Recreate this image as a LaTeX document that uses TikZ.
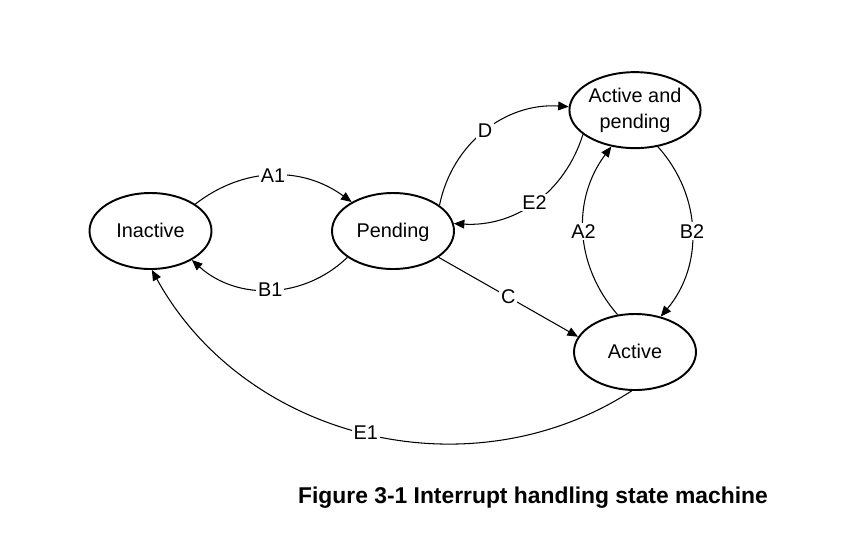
\documentclass[tikz,border=0pt]{standalone}
\usepackage{fontspec}
\setmainfont{Liberation Sans}
\usepackage{tikz}
\usetikzlibrary{arrows.meta}
\usetikzlibrary{shapes}
\tikzstyle{state}=[ellipse,draw=black,line width=1.1pt,minimum width=2.44cm,minimum height=1.52cm,inner sep=0pt,align=center,font=\fontsize{11.3}{14.6}\selectfont]
\tikzstyle{oneline}=[text height=0.72em,text depth=0em]
\tikzstyle{twoline}=[yshift=0.5pt]
\tikzstyle{edge} = [draw,line width=0.6pt,-{Triangle[length=6pt,width=5pt]}]
\tikzstyle{weight} = [fill=white,inner sep=1pt,font=\fontsize{11.3}{13}\selectfont]

\begin{document}
\begin{tikzpicture}
    \useasboundingbox (0,0) rectangle (17,-10.84);
    % the four states
    \foreach \pos/\name/\sty/\text in {{(3.01,-4.62)/inactive/oneline/Inactive}, {(7.86,-4.62)/pending/oneline/Pending}, {(12.7,-2.22)/actpend/twoline/{Active and\\pending}}, {(12.7,-7.04)/active/oneline/Active}}
        \node[state,\sty] (\name) at \pos {\text};
    % transitions with their labels
    \foreach \source/\sa/\dest/\da/\bend/\lab in {inactive/31/pending/145/37/A1, pending/210/inactive/325/43/B1, pending/29/actpend/177/41/D, actpend/205/pending/7/38/E2, pending/330/active/165/0/C, active/115/actpend/237/39/A2, actpend/302/active/54/41/B2, active/265/inactive/272/47/E1}
        \path[edge] (\source.\sa) to[bend left=\bend] node[weight] {\lab} (\dest.\da);
    % caption
    \node[anchor=base,font=\fontsize{13}{15}\selectfont\bfseries] (caption) at (10.66,-10.06) {Figure 3-1 Interrupt handling state machine};
\end{tikzpicture}
\end{document}
